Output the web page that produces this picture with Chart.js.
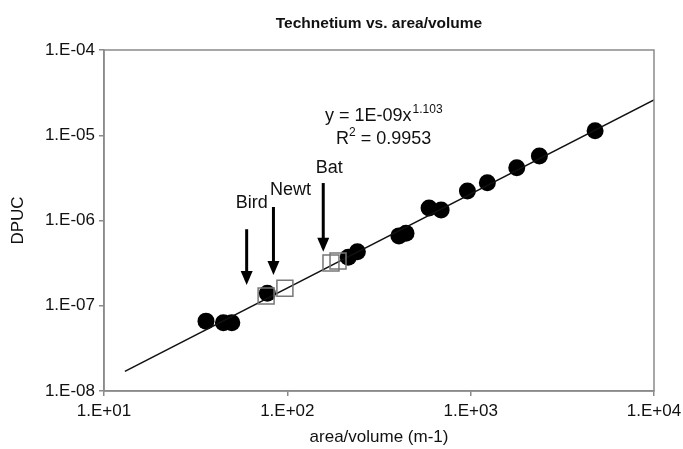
<!DOCTYPE html>
<html>
<head>
<meta charset="utf-8">
<script src="https://cdn.jsdelivr.net/npm/chart.js@4/dist/chart.umd.min.js"></script>
<style>
  html, body { margin: 0; padding: 0; background: #fff; }
  #wrap { width: 683px; height: 449px; }
</style>
</head>
<body>
<div id="wrap"><canvas id="chart" width="683" height="449"></canvas></div>
<script>
// Whole-body measurements (area/volume in m-1, DPUC)
const bodyX = [36, 44.8, 49.8, 77.8, 215, 241, 406, 444, 593, 690, 960, 1233, 1784, 2371, 4772];
const bodyY = [6.6e-8, 6.3e-8, 6.3e-8, 1.4e-7, 3.7e-7, 4.3e-7, 6.6e-7, 7.1e-7, 1.4e-6, 1.33e-6, 2.22e-6, 2.78e-6, 4.16e-6, 5.71e-6, 1.13e-5];

// Bird, newt and bat samples (open squares)
const animalX = [76.6, 97, 173, 189];
const animalY = [1.3e-7, 1.6e-7, 3.17e-7, 3.35e-7];

// Power-law fit y = 1E-09x^1.103, end points of the drawn line
const fitX = [13, 10000];
const fitY = [1.7e-8, 2.6e-5];

// Axis ticks
const xTicks = [10, 100, 1000, 10000];
const xTickLabels = ['1.E+01', '1.E+02', '1.E+03', '1.E+04'];
const yTicks = [1e-8, 1e-7, 1e-6, 1e-5, 1e-4];
const yTickLabels = ['1.E-08', '1.E-07', '1.E-06', '1.E-05', '1.E-04'];

// Arrow annotations: label, x, arrow top, arrow tip
const arrowLabels = ['Bird', 'Newt', 'Bat'];
const arrowX = [60, 84, 157];
const arrowTop = [7.9e-7, 1.44e-6, 2.75e-6];
const arrowTip = [1.75e-7, 2.29e-7, 4.3e-7];

const FONT = 'Arial, "Liberation Sans", sans-serif';

function toXY(xs, ys) {
    return xs.map((x, i) => ({ x: x, y: ys[i] }));
}

// Frame, title, fit equation and arrows
const decorations = {
    id: 'decorations',
    afterDraw(chart) {
        const ctx = chart.ctx;
        const a = chart.chartArea;
        const xs = chart.scales.x, ys = chart.scales.y;
        ctx.save();

        ctx.strokeStyle = '#8a8a8a';
        ctx.lineWidth = 1.5;
        ctx.strokeRect(a.left, a.top, a.right - a.left, a.bottom - a.top);

        ctx.fillStyle = '#111';
        ctx.textAlign = 'center';
        ctx.textBaseline = 'alphabetic';
        ctx.font = 'bold 15.5px ' + FONT;
        ctx.fillText('Technetium vs. area/volume', (a.left + a.right) / 2, 28);

        // equation with superscripts
        ctx.textAlign = 'left';
        ctx.font = '18px ' + FONT;
        const eq = 'y = 1E-09x';
        ctx.fillText(eq, 325, 121);
        const eqW = ctx.measureText(eq).width;
        ctx.font = '12px ' + FONT;
        ctx.fillText('1.103', 325 + eqW + 1, 113);

        ctx.font = '18px ' + FONT;
        ctx.fillText('R', 336, 144);
        const rW = ctx.measureText('R').width;
        ctx.font = '12px ' + FONT;
        ctx.fillText('2', 336 + rW, 136);
        const sW = ctx.measureText('2').width;
        ctx.font = '18px ' + FONT;
        ctx.fillText(' = 0.9953', 336 + rW + sW, 144);

        // arrows
        const labelDx = [5, 17, 6];
        const labelDy = [-21, -12, -10];
        arrowLabels.forEach((label, i) => {
            const px = xs.getPixelForValue(arrowX[i]);
            const top = ys.getPixelForValue(arrowTop[i]);
            const tip = ys.getPixelForValue(arrowTip[i]);
            ctx.strokeStyle = '#000';
            ctx.lineWidth = 3;
            ctx.beginPath();
            ctx.moveTo(px, top);
            ctx.lineTo(px, tip - 12);
            ctx.stroke();
            ctx.fillStyle = '#000';
            ctx.beginPath();
            ctx.moveTo(px - 6, tip - 14);
            ctx.lineTo(px + 6, tip - 14);
            ctx.lineTo(px, tip);
            ctx.closePath();
            ctx.fill();

            ctx.fillStyle = '#111';
            ctx.textAlign = 'center';
            ctx.font = '18px ' + FONT;
            ctx.fillText(label, px + labelDx[i], top + labelDy[i]);
        });
        ctx.restore();
    }
};

new Chart(document.getElementById('chart'), {
    type: 'scatter',
    data: {
        datasets: [
            {
                label: 'Fit',
                type: 'line',
                data: toXY(fitX, fitY),
                borderColor: '#111',
                borderWidth: 1.6,
                pointRadius: 0,
                fill: false,
                order: 2
            },
            {
                label: 'Bodies',
                data: toXY(bodyX, bodyY),
                pointStyle: 'circle',
                pointRadius: 8.5,
                backgroundColor: '#000',
                borderColor: '#000',
                borderWidth: 0,
                order: 3
            },
            {
                label: 'Animals',
                data: toXY(animalX, animalY),
                pointStyle: 'rect',
                pointRadius: 11.3,
                backgroundColor: 'rgba(0,0,0,0)',
                borderColor: '#777',
                borderWidth: 1.5,
                order: 1
            }
        ]
    },
    options: {
        responsive: false,
        animation: false,
        events: [],
        layout: { padding: { left: 0, right: 29, top: 50, bottom: 0 } },
        plugins: {
            legend: { display: false },
            tooltip: { enabled: false }
        },
        scales: {
            x: {
                type: 'logarithmic',
                min: 10,
                max: 10000,
                afterBuildTicks: s => { s.ticks = xTicks.map(v => ({ value: v })); },
                afterFit: s => { s.height = 58; s.paddingLeft = 0; s.paddingRight = 0; },
                ticks: {
                    autoSkip: false,
                    maxRotation: 0,
                    padding: 5,
                    color: '#111',
                    font: { family: FONT, size: 17 },
                    callback: v => xTickLabels[xTicks.indexOf(v)]
                },
                grid: { drawOnChartArea: false, drawTicks: true, tickLength: 5, color: '#8a8a8a', lineWidth: 1.5 },
                border: { display: true, color: '#8a8a8a', width: 1.5 },
                title: {
                    display: true,
                    text: 'area/volume (m-1)',
                    color: '#111',
                    font: { family: FONT, size: 17 },
                    padding: { top: 0, bottom: 1 }
                }
            },
            y: {
                type: 'logarithmic',
                min: 1e-8,
                max: 1e-4,
                afterBuildTicks: s => { s.ticks = yTicks.map(v => ({ value: v })); },
                afterFit: s => { s.width = 104; },
                ticks: {
                    autoSkip: false,
                    padding: 4,
                    color: '#111',
                    font: { family: FONT, size: 17 },
                    callback: v => yTickLabels[yTicks.indexOf(v)]
                },
                grid: { drawOnChartArea: false, drawTicks: true, tickLength: 5, color: '#8a8a8a', lineWidth: 1.5 },
                border: { display: true, color: '#8a8a8a', width: 1.5 },
                title: {
                    display: true,
                    text: 'DPUC',
                    color: '#111',
                    font: { family: FONT, size: 17 },
                    padding: { top: 8, bottom: 0 }
                }
            }
        }
    },
    plugins: [decorations]
});
</script>
</body>
</html>
